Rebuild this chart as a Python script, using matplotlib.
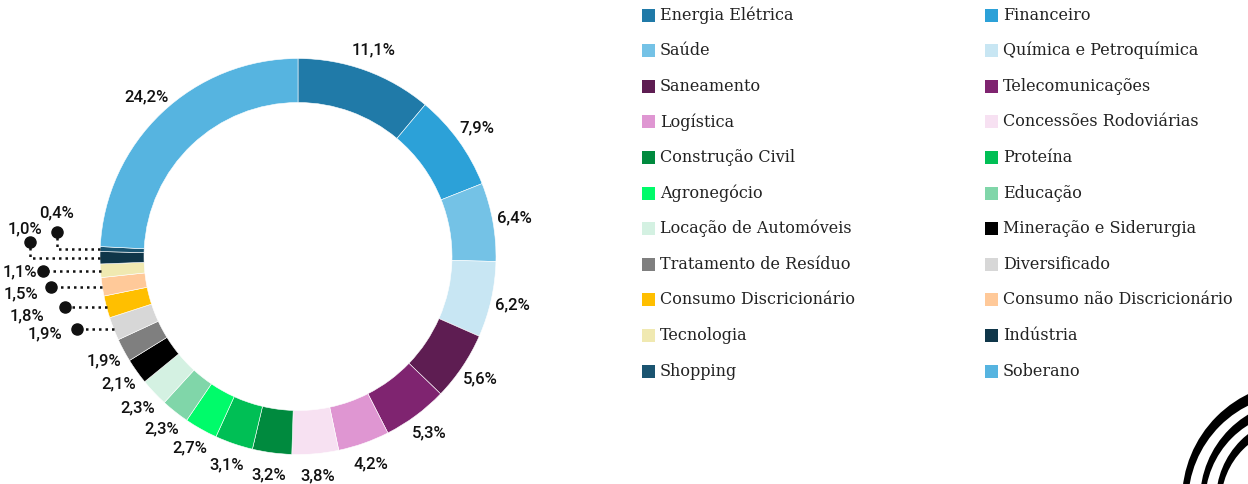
import numpy as np
import matplotlib
matplotlib.use('Agg')
import matplotlib.pyplot as plt
from matplotlib.patches import Rectangle, Circle

sectors = ['Energia Elétrica', 'Financeiro', 'Saúde', 'Química e Petroquímica',
           'Saneamento', 'Telecomunicações', 'Logística', 'Concessões Rodoviárias',
           'Construção Civil', 'Proteína', 'Agronegócio', 'Educação',
           'Locação de Automóveis', 'Mineração e Siderurgia', 'Tratamento de Resíduo',
           'Diversificado', 'Consumo Discricionário', 'Consumo não Discricionário',
           'Tecnologia', 'Indústria', 'Shopping', 'Soberano']
shares = [11.1, 7.9, 6.4, 6.2, 5.6, 5.3, 4.2, 3.8, 3.2, 3.1, 2.7, 2.3,
          2.3, 2.1, 1.9, 1.9, 1.8, 1.5, 1.1, 1.0, 0.4, 24.2]
colors = ['#207aa8', '#2ca1d8', '#74c2e6', '#c8e6f3', '#5e1d52', '#7f2470',
          '#df96d2', '#f7e1f2', '#008a3e', '#00bf55', '#00fb6a', '#80d6a9',
          '#d4f1e2', '#000000', '#7f7f7f', '#d7d7d7', '#ffbf00', '#ffc999',
          '#f0e9b1', '#0f3649', '#1a5470', '#56b4e0']

# small slices labelled through dotted leaders (pixel layout, y from top):
# index -> (dot x, elbow dot y or None, label x, label y, alignment)
leaders = {20: (57, 232, 57, 213, 'center'),
           19: (30, 242, 25, 229, 'center'),
           18: (43, None, 37, 272, 'right'),
           17: (51, None, 38, 294, 'right'),
           16: (65, None, 44, 316, 'right'),
           15: (77, None, 62, 334, 'right')}

W, H = 1248, 484
fig = plt.figure(figsize=(W / 100, H / 100), dpi=100)
ax = fig.add_axes([0, 0, 1, 1])

cx, cy, R = 298, H - 256.5, 198
wedges, _ = ax.pie(shares, colors=colors, startangle=90, counterclock=False,
                   center=(cx, cy), radius=R, frame=True,
                   wedgeprops=dict(width=44, edgecolor='white', linewidth=0.4))
ax.set_xlim(0, W)
ax.set_ylim(0, H)
ax.set_aspect('auto')
ax.axis('off')

lab_font = dict(family='Roboto', fontweight='medium', fontsize=12, color='#111111')

def fmt(v):
    return f'{v:.1f}'.replace('.', ',') + '%'

for i, w in enumerate(wedges):
    a = np.deg2rad((w.theta1 + w.theta2) / 2)
    if i in leaders:
        dx, dy, lx, ly, ha = leaders[i]
        x0, y0 = cx + R * np.cos(a), cy + R * np.sin(a)
        xs, ys = [x0, dx], [y0, y0]
        if dy is not None:
            xs.append(dx)
            ys.append(H - dy)
        ax.plot(xs, ys, color='#111111', lw=1.8, ls=(0, (1, 1.6)))
        ax.plot(xs[-1], ys[-1], 'o', color='#111111', ms=8)
        ax.text(lx, H - ly, fmt(shares[i]), ha=ha, va='center', **lab_font)
    else:
        r = 220
        ax.text(cx + r * np.cos(a), cy + r * np.sin(a), fmt(shares[i]),
                ha='center', va='center', **lab_font)

# legend, two columns filled row by row
for i, (name, c) in enumerate(zip(sectors, colors)):
    row, col = i // 2, i % 2
    x = 642 if col == 0 else 985
    y = H - (15 + row * 35.6)
    ax.add_patch(Rectangle((x, y - 6.5), 13, 13, color=c, lw=0))
    ax.text(x + 18, y, name, ha='left', va='center', family='DejaVu Serif',
            fontsize=11.5, color='#222222')

# logo swirl in the corner
for r_b, r_w in [(118, 109), (100, 92), (84, 76)]:
    ax.add_patch(Circle((1300, H - 500), r_b, color='black', lw=0))
    ax.add_patch(Circle((1297, H - 503), r_w, color='white', lw=0))

fig.savefig('out.png', dpi=100)
